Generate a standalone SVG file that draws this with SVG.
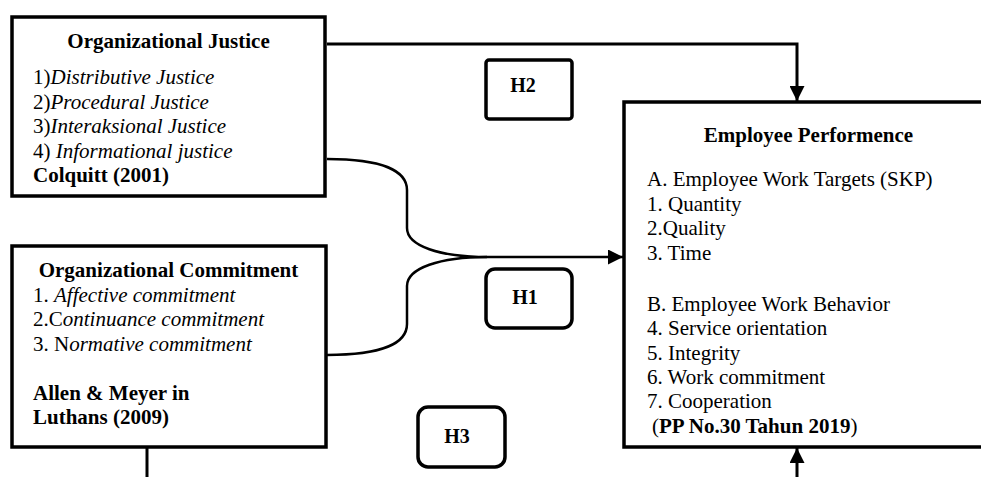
<svg xmlns="http://www.w3.org/2000/svg" width="981" height="477" viewBox="0 0 981 477">
<style>
text{font-family:"Liberation Serif","Times New Roman",serif;font-size:21px;fill:#000}
.b{font-weight:bold}
.i{font-style:italic}
.box{fill:#fff;stroke:#000;stroke-width:3.5}
.h{font-size:20px;font-weight:bold;text-anchor:middle}
.c{fill:none;stroke:#000;stroke-width:3}
.cv{fill:none;stroke:#000;stroke-width:2.5}
</style>
<defs>
<marker id="ah" markerWidth="15" markerHeight="15" refX="15" refY="7.5" orient="auto" markerUnits="userSpaceOnUse">
<path d="M0,0 L15,7.5 L0,15 z" fill="#000"/>
</marker>
</defs>
<rect width="981" height="477" fill="#fff"/>
<g id="connectors">
<path class="c" d="M327,44 H797 V101" marker-end="url(#ah)"/>
<path class="cv" d="M327,159 C385,159 407,172 407,190 L407,228 C407,246 440,257 487,257"/>
<path class="cv" d="M327,355 C385,355 407,342 407,324 L407,286 C407,268 440,257 487,257"/>
<path class="cv" d="M487,257 H623" marker-end="url(#ah)"/>
<path class="c" d="M797,477 V448" marker-end="url(#ah)"/>
<path class="c" d="M147,447 V477"/>
</g>
<g id="org-justice">
<rect class="box" x="12" y="17" width="313" height="179"/>
<text class="b" x="168.5" y="48" text-anchor="middle">Organizational Justice</text>
<text x="33" y="84">1)<tspan class="i">Distributive Justice</tspan></text>
<text x="33" y="108.5">2)<tspan class="i">Procedural Justice</tspan></text>
<text x="33" y="133">3)<tspan class="i">Interaksional Justice</tspan></text>
<text x="33" y="157.5">4) <tspan class="i">Informational justice</tspan></text>
<text class="b" x="33" y="182">Colquitt (2001)</text>
</g>
<g id="org-commitment">
<rect class="box" x="12" y="246" width="314" height="201"/>
<text class="b" x="168.5" y="277" text-anchor="middle">Organizational Commitment</text>
<text x="33" y="302">1. <tspan class="i">Affective commitment</tspan></text>
<text x="33" y="326">2.C<tspan class="i">ontinuance commitment</tspan></text>
<text x="33" y="350.5">3. N<tspan class="i">ormative commitment</tspan></text>
<text class="b" x="33" y="400">Allen &amp; Meyer in</text>
<text class="b" x="33" y="424">Luthans (2009)</text>
</g>
<g id="employee-performance">
<rect class="box" x="624" y="102" width="370" height="345"/>
<text class="b" x="808.5" y="142" text-anchor="middle">Employee Performence</text>
<text x="647" y="186">A. Employee Work Targets (SKP)</text>
<text x="647" y="210.7">1. Quantity</text>
<text x="647" y="235">2.Quality</text>
<text x="647" y="260">3. Time</text>
<text x="647" y="310.7">B. Employee Work Behavior</text>
<text x="647" y="335.3">4. Service orientation</text>
<text x="647" y="360">5. Integrity</text>
<text x="647" y="384">6. Work commitment</text>
<text x="647" y="408.3">7. Cooperation</text>
<text x="652" y="432.7">(<tspan class="b">PP No.30 Tahun 2019</tspan>)</text>
</g>
<g id="h2">
<rect class="box" x="486" y="60" width="86" height="59" rx="3"/>
<text class="h" x="523" y="92">H2</text>
</g>
<g id="h1">
<rect class="box" x="486" y="269" width="86" height="59" rx="9"/>
<text class="h" x="525" y="304">H1</text>
</g>
<g id="h3">
<rect class="box" x="418" y="407" width="87" height="60" rx="10"/>
<text class="h" x="457" y="443">H3</text>
</g>
</svg>
